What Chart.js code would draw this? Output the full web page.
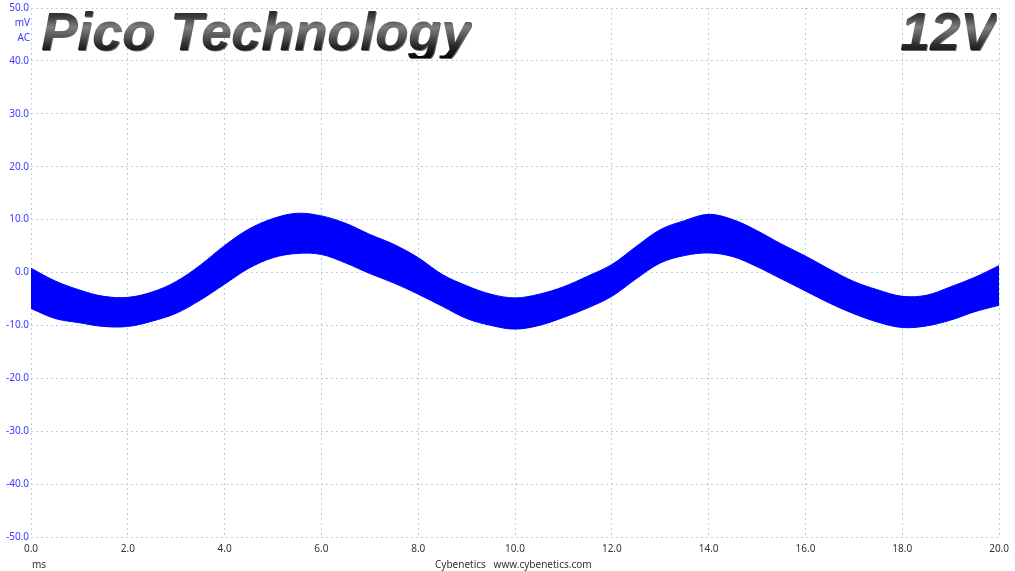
<!DOCTYPE html>
<html>
<head>
<meta charset="utf-8">
<script src="https://cdn.jsdelivr.net/npm/chart.js@4.4.1/dist/chart.umd.min.js"></script>
<style>
  html, body { margin: 0; padding: 0; background: #fff; }
  #wrap { position: relative; width: 1015px; height: 571px; overflow: hidden; }
  #scope { position: absolute; left: 0; top: 0; }
  .brand {
    position: absolute; top: 5px; font-family: "Liberation Sans", Arial, sans-serif;
    font-weight: bold; font-style: italic; font-size: 54px; line-height: 53px;
    white-space: nowrap;
    background: linear-gradient(to bottom, #151515 0%, #3c3c3c 22%, #7e7e7e 42%, #5a5a5a 58%, #262626 78%, #050505 100%);
    -webkit-background-clip: text; background-clip: text; color: transparent;
    filter: drop-shadow(1px 1px 0.5px rgba(0,0,0,0.6));
  }
  .unit { position: absolute; font-family: "Noto Sans", "Open Sans", sans-serif; font-size: 10px; color: #3a3aff; text-align: right; width: 30px; left: 0; }
  .foot { position: absolute; font-family: "Noto Sans", "Open Sans", sans-serif; font-size: 10px; color: #333; white-space: nowrap; }
</style>
</head>
<body>
<div id="wrap">
  <canvas id="scope" width="1015" height="571"></canvas>
  <div class="brand" style="left:41px;">Pico Technology</div>
  <div class="brand" style="right:19px;">12V</div>
  <div class="unit" style="top:15px;">mV</div>
  <div class="unit" style="top:30px;">AC</div>
  <div class="foot" style="left:32px; top:557px;">ms</div>
  <div class="foot" style="left:435px; top:557px;">Cybenetics&nbsp;&nbsp;&nbsp;www.cybenetics.com</div>
</div>
<script>
// time axis (ms) and the ripple band (mV)
const timeMs = [0, 0.5, 1, 1.5, 2, 2.5, 3, 3.5, 4, 4.5, 5, 5.5, 6, 6.5, 7, 7.5, 8, 8.5, 9, 9.5,
  10, 10.5, 11, 11.5, 12, 12.5, 13, 13.5, 14, 14.5, 15, 15.5, 16, 16.5, 17, 17.5, 18, 18.5, 19, 19.5, 20];
const upperMv = [0.8, -1.6, -3.3, -4.5, -4.7, -3.7, -1.7, 1.4, 5.1, 8.2, 10.2, 11.2, 10.7, 9.3, 7.2, 5.3,
  2.8, -0.4, -2.5, -4.1, -4.8, -4.1, -2.7, -0.7, 1.5, 4.9, 8.1, 9.8, 11.0, 10.0, 7.9, 5.4, 3.1, 0.6,
  -1.7, -3.3, -4.5, -4.3, -2.7, -0.9, 1.3];
const lowerMv = [-6.8, -8.7, -9.5, -10.2, -10.2, -9.2, -7.7, -5.2, -2.2, 0.8, 2.8, 3.6, 3.4, 1.8, -0.2, -2.0,
  -4.1, -6.4, -8.7, -10.0, -10.7, -10.0, -8.5, -6.7, -4.5, -1.2, 1.8, 3.2, 3.7, 3.0, 1.1, -1.2, -3.5, -5.8,
  -7.8, -9.4, -10.4, -10.1, -9.0, -7.4, -6.2];
const xTicks = [0, 2, 4, 6, 8, 10, 12, 14, 16, 18, 20];
const yTicks = [-50, -40, -30, -20, -10, 0, 10, 20, 30, 40, 50];

const traceBlue = "#0000ff";
const gridCyan = "#a9d6e2";
const tickFont = { family: "'Noto Sans', 'Open Sans', sans-serif", size: 10 };

const toPoints = (arr) => arr.map((v, i) => ({ x: timeMs[i], y: v }));

new Chart(document.getElementById("scope"), {
  type: "line",
  data: {
    datasets: [
      {
        label: "min",
        data: toPoints(lowerMv),
        borderColor: traceBlue,
        borderWidth: 1,
        pointRadius: 0,
        tension: 0.35,
        fill: false,
      },
      {
        label: "max",
        data: toPoints(upperMv),
        borderColor: traceBlue,
        backgroundColor: traceBlue,
        borderWidth: 1,
        pointRadius: 0,
        tension: 0.35,
        fill: "-1",
      },
    ],
  },
  options: {
    responsive: false,
    animation: false,
    layout: { padding: { top: 8, right: 14, left: 0, bottom: 0 } },
    plugins: { legend: { display: false }, tooltip: { enabled: false } },
    scales: {
      x: {
        type: "linear",
        min: 0,
        max: 20,
        afterBuildTicks: (axis) => { axis.ticks = xTicks.map((v) => ({ value: v })); },
        afterFit: (axis) => { axis.height = 34; },
        ticks: { color: "#333", font: tickFont, padding: 6, maxRotation: 0, callback: (v) => v.toFixed(1) },
        grid: { color: gridCyan, lineWidth: 1, drawTicks: false },
        border: { display: false, dash: [2, 3] },
      },
      y: {
        type: "linear",
        min: -50,
        max: 50,
        afterBuildTicks: (axis) => { axis.ticks = yTicks.map((v) => ({ value: v })); },
        afterFit: (axis) => { axis.width = 31; },
        ticks: { color: "#3a3aff", font: tickFont, padding: 2, callback: (v) => v.toFixed(1) },
        grid: { color: gridCyan, lineWidth: 1, drawTicks: false },
        border: { display: false, dash: [2, 3] },
      },
    },
  },
});
</script>
</body>
</html>
